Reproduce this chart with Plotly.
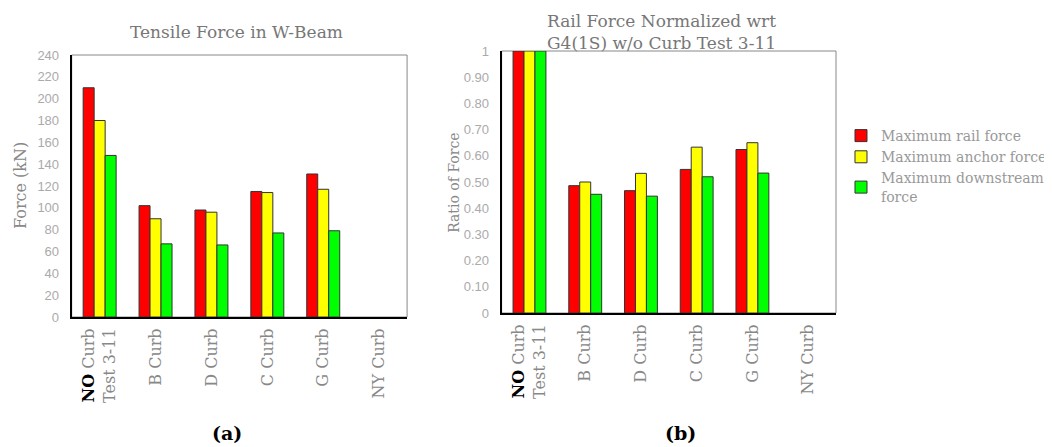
import plotly.graph_objects as go

# ---------------- data ----------------
categories = ["NO Curb Test 3-11", "B Curb", "D Curb", "C Curb", "G Curb", "NY Curb"]
category_labels = ["<span style='color:#000'><b>NO</b></span> Curb<br>Test 3-11",
                   "B Curb", "D Curb", "C Curb", "G Curb", "NY Curb"]
series_names = ["Maximum rail force", "Maximum anchor force", "Maximum downstream<br>force"]
series_colors = ["#ff0000", "#ffff00", "#00ff00"]

force_rail = [210, 102, 98, 115, 131, None]
force_anchor = [180, 90, 96, 114, 117, None]
force_down = [148, 67, 66, 77, 79, None]

ratio_rail = [1.0, 0.486, 0.467, 0.548, 0.624, None]
ratio_anchor = [1.0, 0.50, 0.533, 0.633, 0.65, None]
ratio_down = [1.0, 0.453, 0.446, 0.52, 0.534, None]

force_ticks = [0, 20, 40, 60, 80, 100, 120, 140, 160, 180, 200, 220, 240]
ratio_ticks = [0, 0.1, 0.2, 0.3, 0.4, 0.5, 0.6, 0.7, 0.8, 0.9, 1.0]
ratio_tick_labels = ["0", "0.10", "0.20", "0.30", "0.40", "0.50", "0.60",
                     "0.70", "0.80", "0.90", "1"]

# page body has an 8px margin; size the figure to the visible window
OFF = 8
WIN_W, WIN_H = 1052, 447
W, H = WIN_W - OFF, WIN_H - OFF
SERIF = "DejaVu Serif"
SANS = "Liberation Sans"

fig = go.Figure()

left_sets = [force_rail, force_anchor, force_down]
right_sets = [ratio_rail, ratio_anchor, ratio_down]
for i in range(3):
    fig.add_trace(go.Bar(
        x=categories, y=left_sets[i], name=series_names[i],
        marker=dict(color=series_colors[i], line=dict(color="#333", width=1)),
        xaxis="x", yaxis="y", showlegend=True, legendgroup=str(i)))
for i in range(3):
    fig.add_trace(go.Bar(
        x=categories, y=right_sets[i], name=series_names[i],
        marker=dict(color=series_colors[i], line=dict(color="#333", width=1)),
        xaxis="x2", yaxis="y2", showlegend=False, legendgroup=str(i)))


def px_x(p):
    return (p - OFF) / W


def px_y(p):
    return (WIN_H - p) / H


xcommon = dict(
    type="category", tickmode="array", tickvals=categories, ticktext=category_labels,
    tickangle=-90, tickfont=dict(family=SERIF, size=16, color="#888"),
    showline=True, linecolor="#000", linewidth=2, showgrid=False, zeroline=False,
    ticks="outside", ticklen=3, tickcolor="rgba(0,0,0,0)", fixedrange=True,
    automargin=False,
)
ycommon = dict(
    showline=True, linecolor="#000", linewidth=2, showgrid=False, zeroline=False,
    tickfont=dict(family=SANS, size=13, color="#aaa"),
    ticks="outside", ticklen=8, tickcolor="rgba(0,0,0,0)", automargin=False,
)

fig.update_layout(
    width=W, height=H,
    margin=dict(l=0, r=0, t=0, b=0, pad=0),
    paper_bgcolor="white", plot_bgcolor="white",
    barmode="group", bargap=0.41, bargroupgap=0,
    xaxis=dict(domain=[px_x(72), px_x(409)], anchor="y", **xcommon),
    yaxis=dict(domain=[px_y(317), px_y(55)], anchor="x", range=[0, 240],
               tickmode="array", tickvals=force_ticks, **ycommon),
    xaxis2=dict(domain=[px_x(504), px_x(840)], anchor="y2", **xcommon),
    yaxis2=dict(domain=[px_y(313), px_y(51)], anchor="x2", range=[0, 1],
                tickmode="array", tickvals=ratio_ticks, ticktext=ratio_tick_labels,
                **ycommon),
    legend=dict(x=px_x(845), y=px_y(120), xanchor="left", yanchor="top",
                font=dict(family=SERIF, size=14, color="#999"),
                bgcolor="rgba(0,0,0,0)", tracegroupgap=0, itemclick=False),
    showlegend=True,
)

# grey frames (top / right borders)
for xr, yr in (("x domain", "y domain"), ("x2 domain", "y2 domain")):
    fig.add_shape(type="rect", xref=xr, yref=yr, x0=0, x1=1, y0=0, y1=1,
                  line=dict(color="#888", width=1), layer="below")

ann = []
ann.append(dict(text="Tensile Force in W-Beam", x=px_x(238), y=px_y(32),
                yanchor="middle", font=dict(family=SERIF, size=17, color="#777")))
ann.append(dict(text="Rail Force Normalized wrt<br>G4(1S) w/o Curb Test 3-11",
                x=px_x(665), y=px_y(9), yanchor="top",
                font=dict(family=SERIF, size=17, color="#777")))
ann.append(dict(text="Force (kN)", x=px_x(20), y=px_y(185), textangle=-90,
                yanchor="middle", font=dict(family=SERIF, size=16, color="#888")))
ann.append(dict(text="Ratio of Force", x=px_x(456), y=px_y(183), textangle=-90,
                yanchor="middle", font=dict(family=SERIF, size=14, color="#888")))
ann.append(dict(text="<b>(a)</b>", x=px_x(228), y=px_y(433), yanchor="middle",
                font=dict(family=SERIF, size=19, color="#000")))
ann.append(dict(text="<b>(b)</b>", x=px_x(684), y=px_y(433), yanchor="middle",
                font=dict(family=SERIF, size=19, color="#000")))
for a in ann:
    fig.add_annotation(xref="paper", yref="paper", showarrow=False,
                       xanchor="center", **a)

fig.write_html("out.html")
